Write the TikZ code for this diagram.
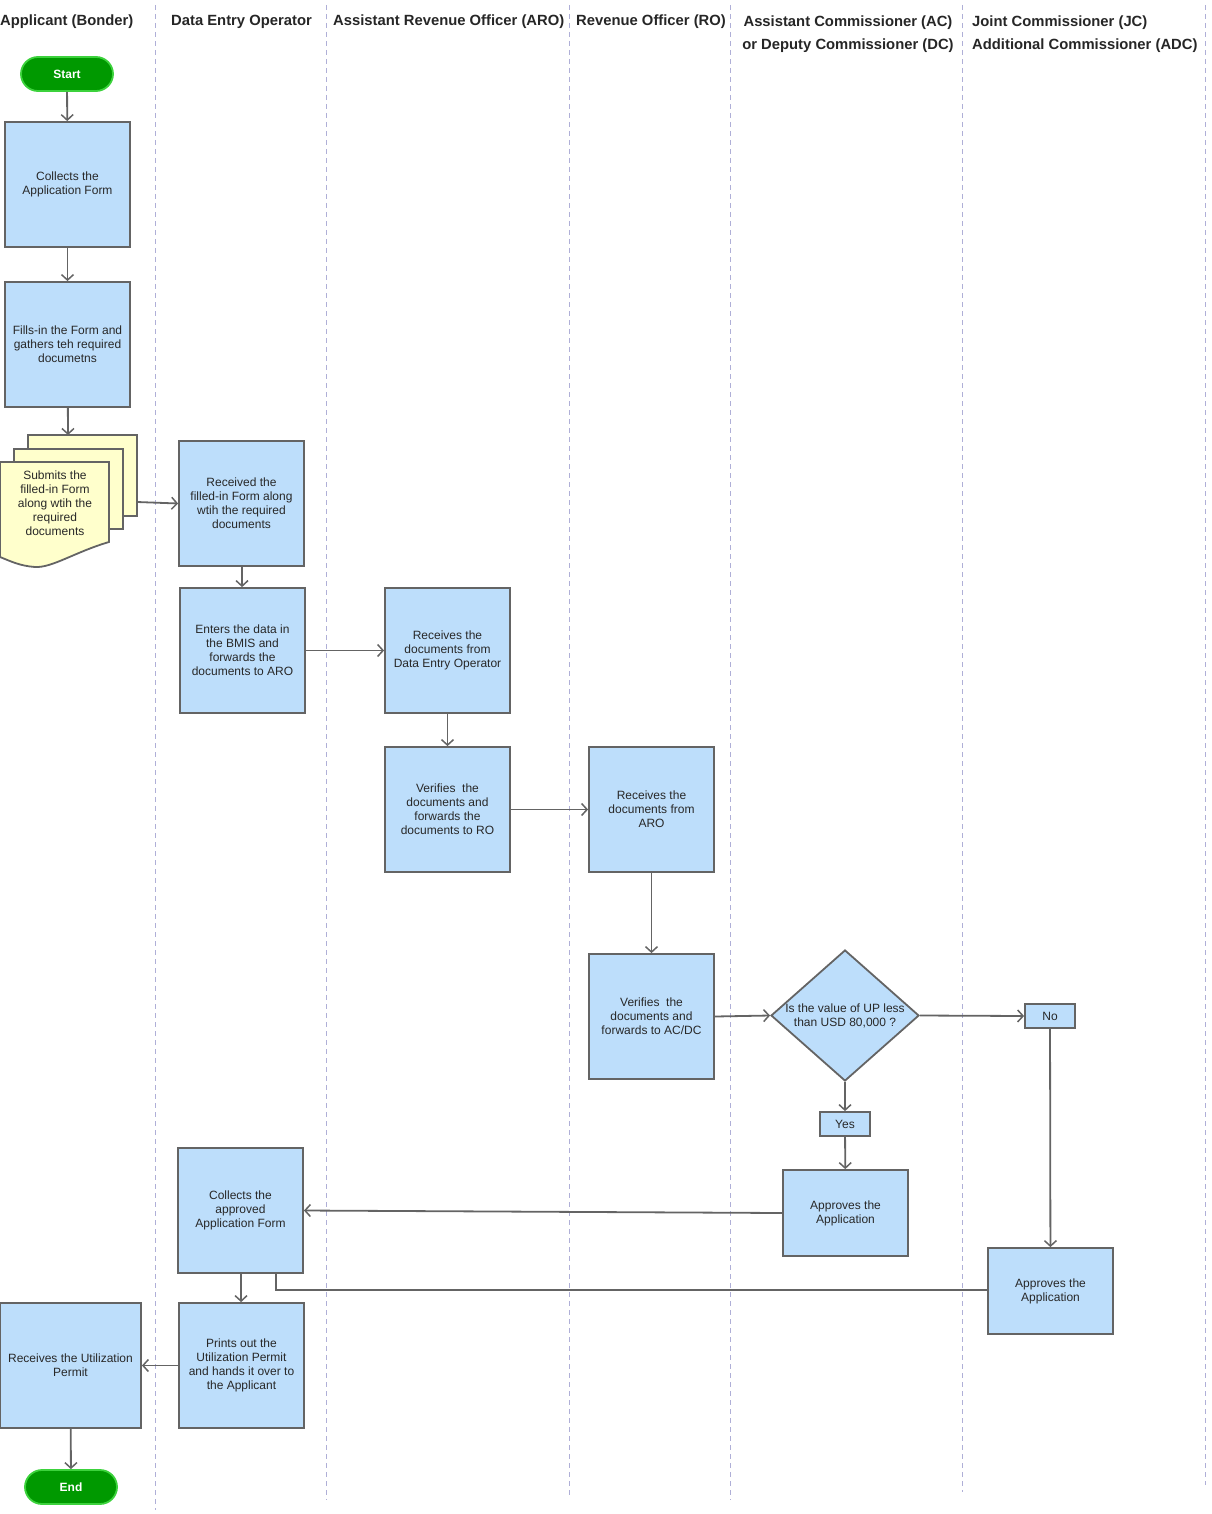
\documentclass[tikz,border=0pt]{standalone}
\usepackage{fontspec}
\setmainfont{Liberation Sans}
\usetikzlibrary{arrows.meta,shapes.geometric}
\definecolor{boxfill}{RGB}{189,222,251}
\definecolor{boxline}{RGB}{100,100,100}
\definecolor{docfill}{RGB}{255,255,204}
\definecolor{lanecol}{RGB}{175,175,215}
\definecolor{termfill}{RGB}{0,153,0}
\definecolor{termline}{RGB}{60,210,60}
\definecolor{txt}{RGB}{40,40,40}
\tikzset{
  x=1pt,y=-1pt,
  proc/.style={draw=boxline,fill=boxfill,line width=1.8pt,minimum width=125pt,minimum height=125pt,
    inner sep=0pt,align=center,text=txt,font=\fontsize{12}{14}\selectfont},
  small/.style={draw=boxline,fill=boxfill,line width=1.8pt,minimum width=50pt,minimum height=24pt,
    inner sep=0pt,align=center,text=txt,font=\fontsize{12}{14}\selectfont},
  term/.style={draw=termline,fill=termfill,line width=1.8pt,rounded corners=17pt,minimum width=92pt,
    minimum height=34pt,text=white,font=\fontsize{12}{14}\selectfont\bfseries},
  decision/.style={diamond,draw=boxline,fill=boxfill,line width=1.8pt,minimum width=148pt,minimum height=131pt,
    inner sep=0pt,aspect=1.13,align=center,text=txt,font=\fontsize{12}{14}\selectfont},
  lane/.style={draw=lanecol,line width=1pt,dash pattern=on 5pt off 4pt},
  head/.style={font=\fontsize{14.8}{23}\selectfont\bfseries,text=black!85,inner sep=0pt},
  conn/.style={draw=boxline,line width=1.8pt,-{Straight Barb[length=5.5pt,width=12pt,line width=1.5pt]}},
  plain/.style={draw=boxline,line width=1.8pt},
  docsheet/.style={draw=boxline,fill=docfill,line width=1.8pt}
}
\begin{document}
\begin{tikzpicture}
\useasboundingbox (0,0) rectangle (1211,1514);
% lanes
\draw[lane] (155,5) -- (155,1510);
\draw[lane] (326,5) -- (326,1500);
\draw[lane] (569,5) -- (569,1497);
\draw[lane] (730,5) -- (730,1500);
\draw[lane] (962,5) -- (962,1492);
\draw[lane] (1205,5) -- (1205,1485);
% headers
\node[head,anchor=west] (h1) at (0,22) {Applicant (Bonder)};
\node[head,anchor=west] (h2) at (171,22) {Data Entry Operator};
\node[head,anchor=west] (h3) at (333,22) {Assistant Revenue Officer (ARO)};
\node[head,anchor=west] (h4) at (576,22) {Revenue Officer (RO)};
\node[head,align=center,anchor=north] (h5) at (848,16) {Assistant Commissioner (AC)\\or Deputy Commissioner (DC)};
\node[head,align=left,anchor=north west] (h6) at (972,16) {Joint Commissioner (JC)\\Additional Commissioner (ADC)};
% nodes
\node[term] (start) at (67,74) {Start};
\node[proc] (collect) at (67.5,184.5) {Collects the\\Application Form};
\node[proc] (fills) at (67.5,344.5) {Fills-in the Form and\\gathers teh required\\documetns};
% document stack
\draw[docsheet] (28,435) rectangle (137,516);
\draw[docsheet] (14,449) rectangle (123,529);
\draw[docsheet] (0,462) -- (109,462) -- (109,542) .. controls (75,552) and (52,568) .. (35,567) .. controls (20,566) and (10,561) .. (0,557) -- cycle;
\coordinate (stacktop) at (68,435);
\coordinate (stackright) at (137,502);
\node[align=center,text=txt,font=\fontsize{12}{14}\selectfont] (stack) at (55,503) {Submits the\\filled-in Form\\along wtih the\\required\\documents};
\node[proc] (received) at (241.5,503.5) {Received the\\filled-in Form along\\wtih the required\\documents};
\node[proc] (enters) at (242.5,650.5) {Enters the data in\\the BMIS and\\forwards the\\documents to ARO};
\node[proc] (recvdeo) at (447.5,650.5) {Receives the\\documents from\\Data Entry Operator};
\node[proc] (verifyaro) at (447.5,809.5) {Verifies~ the\\documents and\\forwards the\\documents to RO};
\node[proc] (recvaro) at (651.5,809.5) {Receives the\\documents from\\ARO};
\node[proc] (verifyro) at (651.5,1016.5) {Verifies~ the\\documents and\\forwards to AC/DC};
\node[decision] (dec) at (845,1015.5) {Is the value of UP less\\than USD 80,000 ?};
\node[small] (no) at (1050,1016) {No};
\node[small] (yes) at (845,1124) {Yes};
\node[proc,minimum height=86pt] (appac) at (845.5,1213) {Approves the\\Application};
\node[proc,minimum height=86pt] (appjc) at (1050.5,1291) {Approves the\\Application};
\node[proc] (collappr) at (240.5,1210.5) {Collects the\\approved\\Application Form};
\node[proc] (prints) at (241.5,1365.5) {Prints out the\\Utilization Permit\\and hands it over to\\the Applicant};
\node[proc,minimum width=141pt] (recvpermit) at (70.5,1365.5) {Receives the Utilization\\Permit};
\node[term] (end) at (71,1487) {End};
% connectors
\draw[conn] (start) -- (collect);
\draw[conn] (collect) -- (fills);
\draw[conn] (fills) -- (stacktop);
\draw[conn] (stackright) -- (received.west);
\draw[conn] (received) -- (enters);
\draw[conn] (enters) -- (recvdeo);
\draw[conn] (recvdeo) -- (verifyaro);
\draw[conn] (verifyaro) -- (recvaro);
\draw[conn] (recvaro) -- (verifyro);
\draw[conn] (verifyro.east) -- (dec.west);
\draw[conn] (dec.east) -- (no.west);
\draw[conn] (dec.south) -- (yes.north);
\draw[conn] (yes) -- (appac);
\draw[conn] (no) -- (appjc);
\draw[conn] (appac.west) -- (collappr.east);
\draw[plain] (collappr.south -| 276,0) -- (276,1290) -- (appjc.west |- 0,1290);
\draw[conn] (collappr) -- (prints);
\draw[conn] (prints) -- (recvpermit);
\draw[conn] (recvpermit) -- (end);
\end{tikzpicture}
\end{document}
